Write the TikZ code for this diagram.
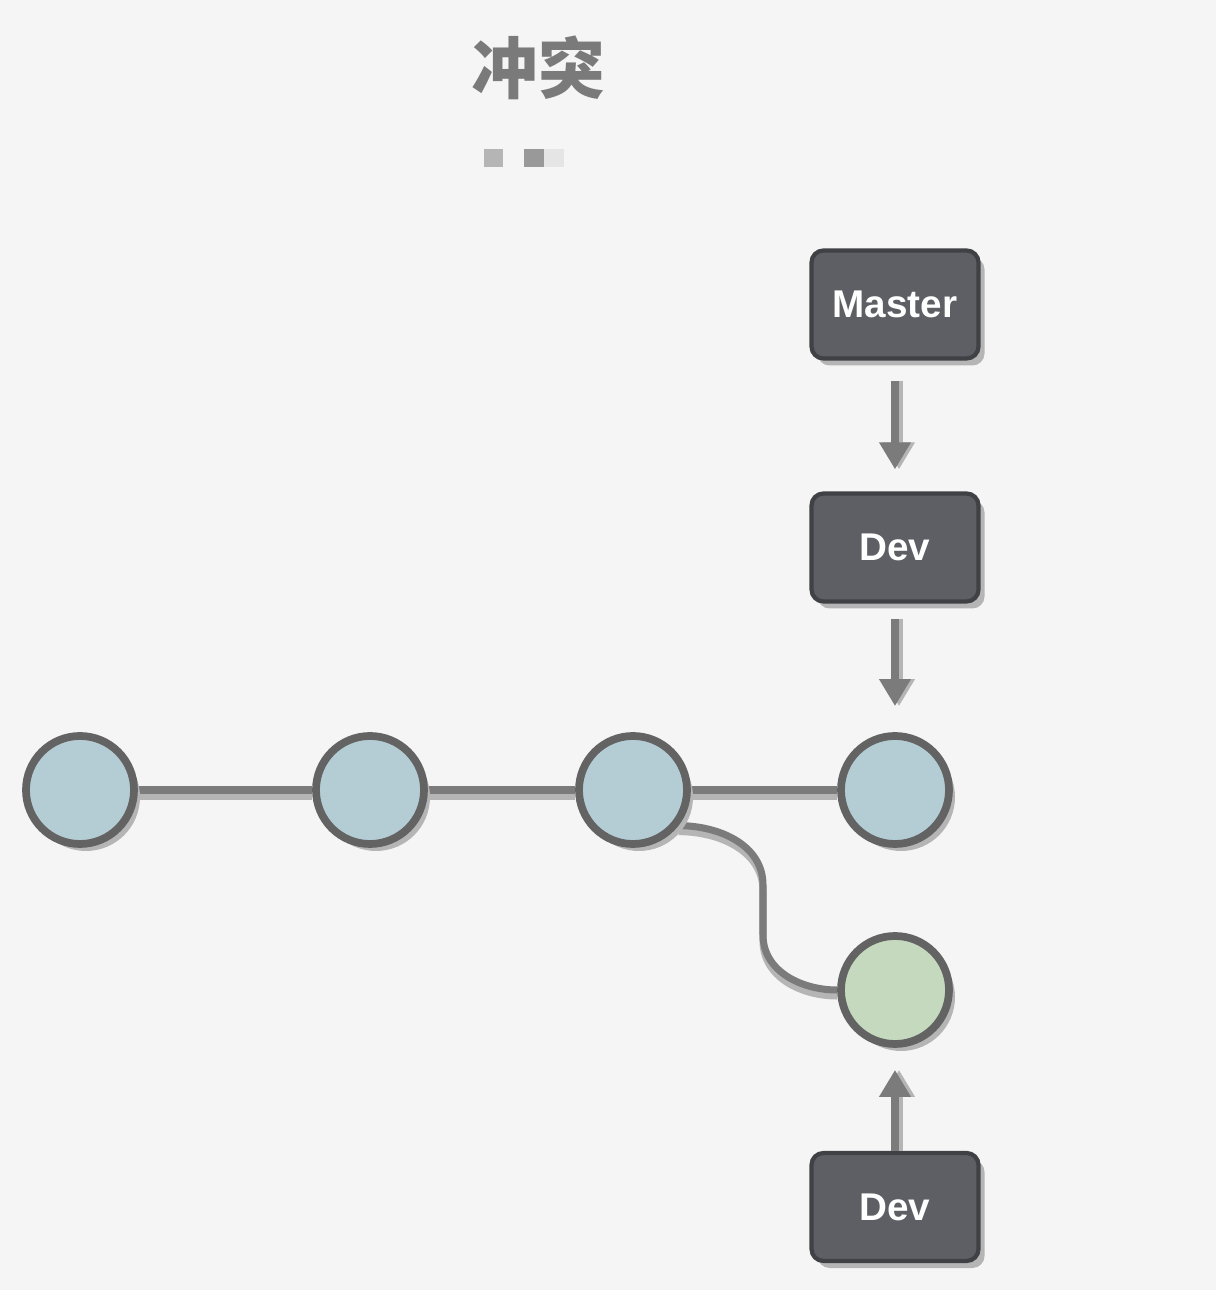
\documentclass[tikz,border=0pt]{standalone}
\usepackage{fontspec}
\setmainfont{Liberation Sans}
\newfontfamily\cjk{Noto Sans CJK SC}
\usepackage{tikz}
\usetikzlibrary{arrows.meta,shadows,backgrounds}

\definecolor{bgcol}{HTML}{F5F5F5}
\definecolor{titlecol}{HTML}{7A7A7A}
\definecolor{boxcol}{HTML}{5E5F65}
\definecolor{boxline}{HTML}{404145}
\definecolor{ringcol}{HTML}{636363}
\definecolor{bluecol}{HTML}{B4CDD4}
\definecolor{greencol}{HTML}{C5D9BE}
\definecolor{linkcol}{HTML}{7B7B7B}
\definecolor{shadecol}{HTML}{B5B5B5}

\tikzset{
  branch/.style={draw=boxline, fill=boxcol, line width=1.2pt, rounded corners=0.12cm,
    minimum width=1.67cm, minimum height=1.08cm, text=white,
    font=\fontsize{11}{13}\selectfont\bfseries,
    drop shadow={shadow xshift=0.06cm, shadow yshift=-0.07cm, fill=shadecol, opacity=1}},
  commit/.style={circle, draw=ringcol, line width=2.2pt, minimum size=1.08cm, inner sep=0pt,
    drop shadow={shadow xshift=0.06cm, shadow yshift=-0.07cm, fill=shadecol, opacity=1}},
  link/.style={draw=linkcol, line width=2pt,
    preaction={draw=shadecol, line width=2pt, transform canvas={yshift=-0.06cm}}},
  pointer/.style={draw=linkcol, line width=2.2pt, -{Triangle[width=0.3cm,length=0.27cm]},
    preaction={draw=shadecol, line width=2.2pt, -{Triangle[width=0.3cm,length=0.27cm]},
      transform canvas={xshift=0.04cm}}}
}

\begin{document}
\begin{tikzpicture}
\useasboundingbox (0,0) rectangle (12.16,12.9);

\node[text=titlecol, font=\cjk\bfseries\fontsize{19}{22}\selectfont] (title) at (5.38,12.22) {冲突};
\fill[shadecol] (4.84,11.41) rectangle (5.03,11.23);
\fill[black!40] (5.24,11.41) rectangle (5.44,11.23);
\fill[black!10] (5.44,11.41) rectangle (5.64,11.23);

\node[branch] (master) at (8.95,9.855) {Master};
\node[branch] (dev) at (8.95,7.425) {Dev};
\node[branch] (newdev) at (8.95,0.83) {Dev};

\node[commit, fill=bluecol] (c1) at (0.80,5.0) {};
\node[commit, fill=bluecol] (c2) at (3.70,5.0) {};
\node[commit, fill=bluecol] (c3) at (6.33,5.0) {};
\node[commit, fill=bluecol] (c4) at (8.95,5.0) {};
\node[commit, fill=greencol] (c5) at (8.95,3.0) {};

\begin{scope}[on background layer]
\fill[bgcol] (0,0) rectangle (12.16,12.9);
\draw[link] (c1) -- (c2);
\draw[link] (c2) -- (c3);
\draw[link] (c3) -- (c4);
\draw[link] (c3.-38) to[out=0,in=90] (7.63,4.05) -- (7.63,3.55) to[out=-90,in=180] (c5.west);
\end{scope}

\draw[pointer, shorten <=0.2cm, shorten >=0.22cm] (master.south) -- (dev.north);
\draw[pointer, shorten <=0.15cm, shorten >=0.26cm] (dev.south) -- (c4.north);
\draw[pointer, shorten >=0.22cm] (newdev.north) -- (c5.south);
\end{tikzpicture}
\end{document}
